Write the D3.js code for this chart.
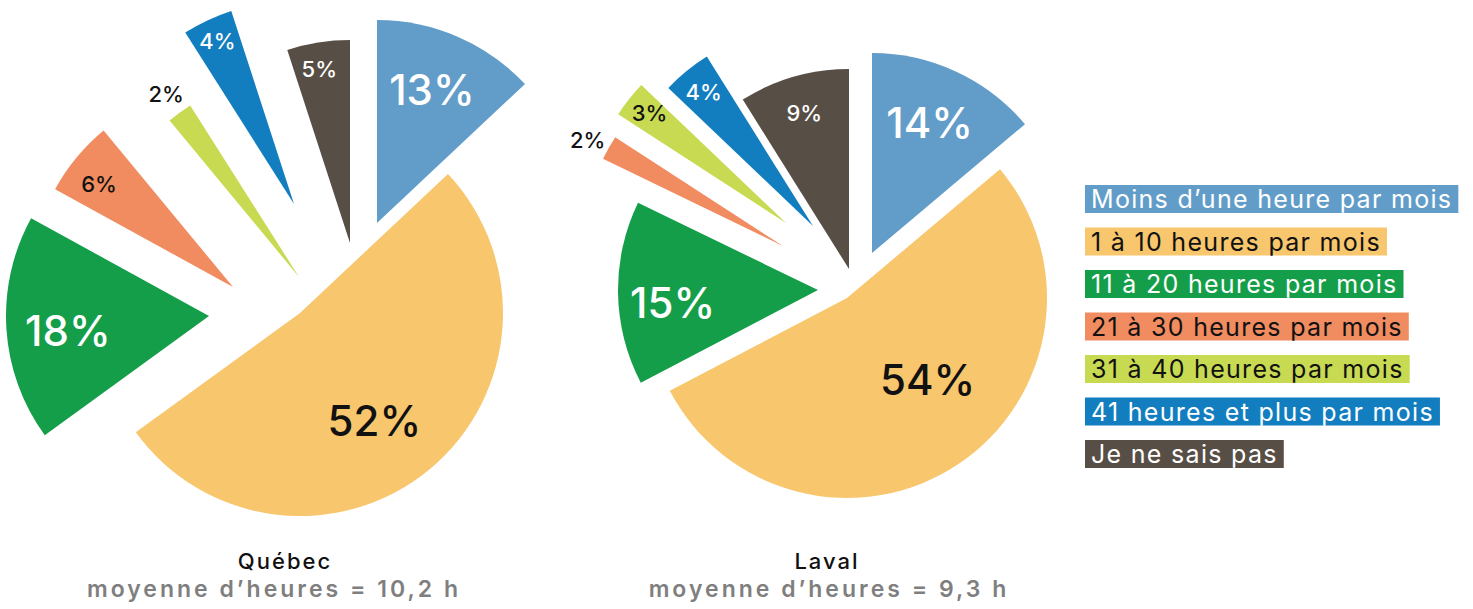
<!DOCTYPE html>
<html>
<head>
<meta charset="utf-8">
<script src="https://cdn.jsdelivr.net/npm/d3@7"></script>
<style>
  body { margin: 0; background: #fff; }
  svg { display: block; font-family: Inter, 'Open Sans', sans-serif; }
</style>
</head>
<body>
<svg id="chart" width="1473" height="609"></svg>
<script>
var categories = [
  'Moins d’une heure par mois',
  '1 à 10 heures par mois',
  '11 à 20 heures par mois',
  '21 à 30 heures par mois',
  '31 à 40 heures par mois',
  '41 heures et plus par mois',
  'Je ne sais pas'
];
var quebecValues = [13, 52, 18, 6, 2, 4, 5];
var lavalValues = [14, 54, 15, 2, 3, 4, 9];
var regionNames = ['Québec', 'Laval'];
var regionAverages = ['moyenne d’heures = 10,2 h', 'moyenne d’heures = 9,3 h'];

var colors = ['#629dc9', '#f7c66d', '#159e49', '#f08c5f', '#c8da52', '#127ec0', '#574e46'];
var inkColors = ['#fff', '#111', '#fff', '#111', '#111', '#fff', '#fff'];

// each slice is pulled out by hand in the original, so keep the shifts per slice
var layouts = [
  {
    cx: 300, cy: 313, r: 203, titleX: 285, subX: 274,
    shift: [[77, -90], [0, 0], [-91, 3], [-67, -26], [-1, -36], [-6, -109], [50, -70]],
    labelDist: [144, 131, 142, 169, 226, 180, 177],
    labelTurn: [-1, 5, -2.5, -2, 0, 0, -1]
  },
  {
    cx: 847, cy: 298, r: 200, titleX: 827, subX: 829,
    shift: [[25, -45], [0, 0], [-29, -8], [-64, -52], [-61, -75], [-34, -72], [2, -29]],
    labelDist: [142, 115, 146, 222, 175, 173, 162],
    labelTurn: [-1, -10.7, -4, -1, 0.5, 0, 0]
  }
];

var svg = d3.select('#chart');
var pie = d3.pie().sort(null).value(function(d) { return d; });
var rad = Math.PI / 180;

[quebecValues, lavalValues].forEach(function(values, k) {
  var lay = layouts[k];
  var arc = d3.arc().innerRadius(0).outerRadius(lay.r);
  var slices = pie(values);

  var g = svg.append('g').attr('transform', 'translate(' + lay.cx + ',' + lay.cy + ')');

  var sliceSel = g.selectAll('.slice')
    .data(slices)
    .enter()
    .append('g')
    .classed('slice', true)
    .attr('transform', function(d, i) {
      return 'translate(' + lay.shift[i][0] + ',' + lay.shift[i][1] + ')';
    });

  sliceSel.append('path')
    .attr('d', arc)
    .attr('fill', function(d, i) { return colors[i]; });

  sliceSel.append('text')
    .attr('text-anchor', 'middle')
    .attr('dy', '0.36em')
    .attr('x', function(d, i) {
      var a = (d.startAngle + d.endAngle) / 2 + lay.labelTurn[i] * rad;
      return Math.sin(a) * lay.labelDist[i];
    })
    .attr('y', function(d, i) {
      var a = (d.startAngle + d.endAngle) / 2 + lay.labelTurn[i] * rad;
      return -Math.cos(a) * lay.labelDist[i];
    })
    .attr('fill', function(d, i) { return inkColors[i]; })
    .attr('font-size', function(d) { return d.data >= 10 ? 42 : 22; })
    .attr('font-weight', 500)
    .text(function(d) { return d.data + '%'; });

  svg.append('text')
    .attr('x', lay.titleX)
    .attr('y', 569)
    .attr('text-anchor', 'middle')
    .attr('font-size', 22)
    .attr('font-weight', 500)
    .attr('letter-spacing', 2)
    .attr('fill', '#111')
    .text(regionNames[k]);

  svg.append('text')
    .attr('x', lay.subX)
    .attr('y', 597)
    .attr('text-anchor', 'middle')
    .attr('font-size', 23)
    .attr('font-weight', 600)
    .attr('letter-spacing', 3)
    .attr('fill', '#7f7f7f')
    .text(regionAverages[k]);
});

// legend
var legend = svg.append('g').attr('transform', 'translate(1085,185)');
var row = legend.selectAll('.row')
  .data(categories)
  .enter()
  .append('g')
  .classed('row', true)
  .attr('transform', function(d, i) { return 'translate(0,' + (i * 42.5) + ')'; });

row.append('rect')
  .attr('height', 28)
  .attr('fill', function(d, i) { return colors[i]; });

row.append('text')
  .attr('x', 6)
  .attr('y', 23)
  .attr('font-size', 25)
  .attr('letter-spacing', 1.3)
  .attr('fill', function(d, i) { return inkColors[i]; })
  .text(function(d) { return d; });

row.each(function() {
  var w = d3.select(this).select('text').node().getComputedTextLength();
  d3.select(this).select('rect').attr('width', w + 12);
});
</script>
</body>
</html>
